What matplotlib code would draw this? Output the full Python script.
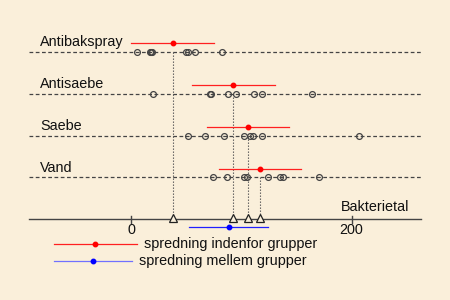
import matplotlib
matplotlib.use('Agg')
import matplotlib.pyplot as plt
import numpy as np

# data
groups = ['Antibakspray', 'Antisaebe', 'Saebe', 'Vand']
values = [
    [5, 17, 18, 19, 50, 51, 58, 82],
    [20, 71, 72, 88, 95, 111, 119, 164],
    [51, 67, 84, 102, 108, 110, 119, 207],
    [74, 87, 102, 105, 124, 135, 138, 170],
]
within_sd = 37.6
between_sd = 35.6
xticks = [0, 200]
xlabel = 'Bakterietal'
legend_labels = ['spredning indenfor grupper', 'spredning mellem grupper']

BG = '#faefda'
GREY = '#444444'

plt.rcParams['font.family'] = ['Liberation Sans', 'DejaVu Sans']

fig = plt.figure(figsize=(4.5, 3), dpi=100, facecolor=BG)
ax = fig.add_axes([0, 0, 1, 1])
ax.set_facecolor(BG)
ax.set_xlim(-119.5, 289.5)
ax.set_ylim(5.926, -1.234)
ax.axis('off')

xmin, xmax = -93, 263
axis_y = len(groups)

means = [np.mean(v) for v in values]
grand = np.mean(means)

for i, (name, v, m) in enumerate(zip(groups, values, means)):
    ax.plot([xmin, xmax], [i, i], ls=(0, (3, 2)), color=GREY, lw=0.9, zorder=1)
    ax.plot(v, [i] * len(v), 'o', mfc='none', mec=GREY, ms=4.2, mew=0.9, zorder=3)
    ax.text(xmin + 10, i - 0.22, name, fontsize=10.4, color='#111111', va='center', ha='left')
    ax.plot([m - within_sd, m + within_sd], [i - 0.2, i - 0.2], color='#ff2020', lw=0.9, zorder=2)
    ax.plot(m, i - 0.2, 'o', color='red', ms=3.2, zorder=4)
    ax.plot([m, m], [i, axis_y], ls=(0, (1.2, 1.5)), color='#555555', lw=0.8, zorder=1)
    ax.plot(m, axis_y - 0.03, '^', mfc=BG, mec='#222222', ms=5.2, mew=0.9, zorder=4)

# x axis
ax.plot([xmin, xmax], [axis_y, axis_y], color=GREY, lw=1, zorder=2)
for t in xticks:
    ax.plot([t, t], [axis_y - 0.09, axis_y + 0.09], color=GREY, lw=1)
    ax.text(t, axis_y + 0.26, str(t), fontsize=10.4, ha='center', va='center', color='#111111')
ax.text(190, axis_y - 0.29, xlabel, fontsize=10.4, ha='left', va='center', color='#111111')

# between-group spread
ax.plot([grand - between_sd, grand + between_sd], [axis_y + 0.19] * 2, color='#2020ff', lw=0.9)
ax.plot(grand, axis_y + 0.19, 'o', color='blue', ms=3.2)

# legend
left = -70.5
for sd, col, lcol, lab, y in [(within_sd, 'red', '#ff2020', legend_labels[0], axis_y + 0.58),
                               (between_sd, 'blue', '#7070ff', legend_labels[1], axis_y + 0.99)]:
    ax.plot([left, left + 2 * sd], [y, y], color=lcol, lw=0.9)
    ax.plot(left + sd, y, 'o', color=col, ms=3.2)
    ax.text(left + 2 * sd + 6.5, y, lab, fontsize=10.4, ha='left', va='center', color='#111111')

fig.savefig('out.png', dpi=100, facecolor=BG)
